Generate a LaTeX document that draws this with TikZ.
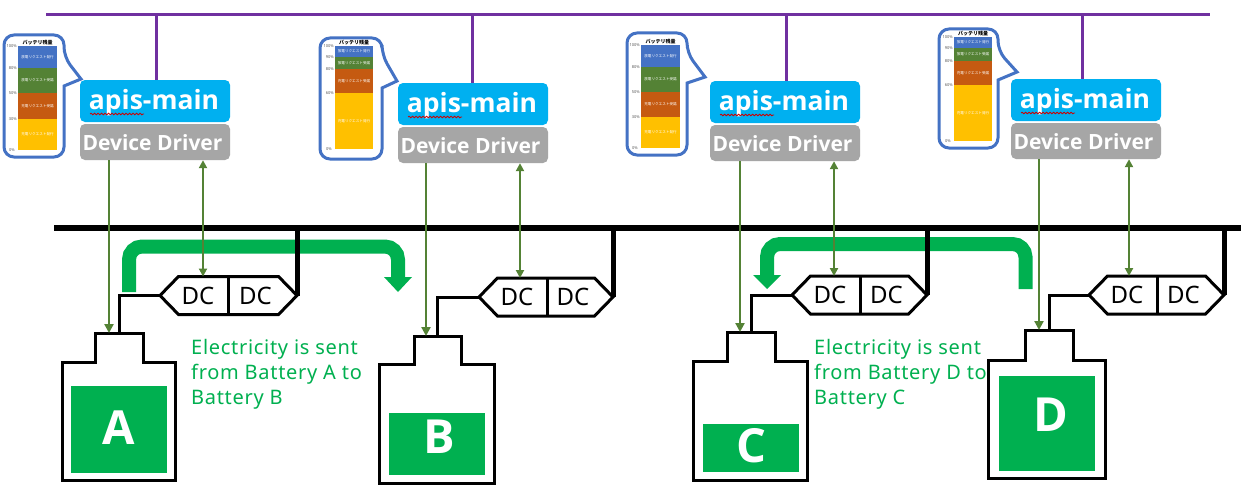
\documentclass[tikz,border=0pt]{standalone}
\usepackage{fontspec}
\setmainfont{Noto Sans}
\newfontfamily\cjkf{Noto Sans CJK JP}
\newfontfamily\heavyf{Open Sans}
\newfontfamily\notef{Noto Sans}[LetterSpace=3.5]
\usetikzlibrary{arrows.meta,decorations.pathmorphing,calc}
\definecolor{purp}{HTML}{7030A0}
\definecolor{sky}{HTML}{00B0F0}
\definecolor{drvgray}{HTML}{A6A6A6}
\definecolor{lnk}{HTML}{548235}
\definecolor{grn}{HTML}{00B050}
\definecolor{bub}{HTML}{4472C4}
\definecolor{orng}{HTML}{C55A11}
\definecolor{yel}{HTML}{FFC000}
\tikzset{
  x=1pt,y=-1pt,
  mainbox/.style={fill=sky,rounded corners=5pt,minimum width=150pt,minimum height=42pt,inner sep=0pt},
  maintxt/.style={inner sep=0pt,text=white,font=\heavyf\fontsize{26.5}{27}\selectfont\bfseries},
  drvbox/.style={fill=drvgray,rounded corners=5pt,minimum width=150pt,minimum height=36pt,inner sep=0pt},
  drvtxt/.style={inner sep=0pt,text=white,font=\heavyf\fontsize{21}{21}\selectfont\bfseries},
  purpline/.style={draw=purp,line width=3pt},
  busline/.style={draw=black,line width=6pt},
  riser/.style={draw=black,line width=5pt},
  wire/.style={draw=black,line width=3pt},
  outline/.style={draw=black,line width=3pt,line join=miter,fill=white},
  link/.style={draw=lnk,line width=2.8pt,-{Triangle[width=9pt,length=9pt]}},
  dlink/.style={draw=lnk,line width=2.4pt,{Triangle[width=8pt,length=8pt]}-{Triangle[width=8pt,length=8pt]}},
  bubble/.style={draw=bub,line width=3pt,fill=white,line join=miter},
  bandtxt/.style={inner sep=0pt,text=white,font=\cjkf\fontsize{3.6}{4}\selectfont},
  pct/.style={inner sep=0pt,anchor=east,text=black!65,font=\fontsize{4}{4}\selectfont},
  ttl/.style={inner sep=0pt,font=\cjkf\fontsize{5}{5}\selectfont\bfseries},
  dctxt/.style={inner sep=0pt,font=\fontsize{24}{24}\selectfont},
  letter/.style={inner sep=0pt,text=white,font=\heavyf\fontsize{47}{47}\selectfont\bfseries},
  note/.style={inner sep=0pt,anchor=north west,align=left,text=grn,font=\notef\fontsize{20}{25}\selectfont},
  wavy/.style={draw=red!80!black,line width=.8pt,decorate,decoration={snake,amplitude=.8pt,segment length=3.5pt}},
  transfer/.style={draw=grn,line width=14pt,rounded corners=13pt},
}
% id, left, top of main
\newcommand{\apisstack}[3]{%
  \node[mainbox] (main#1) at ({#2+75},{#3+21}) {};
  \node[drvbox] (drv#1) at ({#2+75},{#3+62}) {};
  \node[maintxt] (mt#1) at ({#2+74},{#3+23}) {apis-main};
  \node[drvtxt] (dt#1) at ({#2+72.5},{#3+62.5}) {Device Driver};
  \draw[wavy] ({#2+10},{#3+34}) -- ({#2+64},{#3+34});
}
% id, l, r, t, b, tipx, tipy, p1, p2
\newcommand{\bubbleshape}[9]{%
  \draw[bubble,rounded corners=10pt] (#3,#9) -- (#3,#5) -- (#2,#5) -- (#2,#4) -- (#3,#4) -- (#3,#8) [sharp corners] -- (#6,#7) -- cycle;
}
% name, x1, x2, y1, y2, colour, text
\newcommand{\band}[7]{%
  \fill[#6] (#2,#4) rectangle (#3,#5);
  \node[bandtxt] (#1) at ({(#2+#3)/2},{(#4+#5)/2}) {#7};
}
% id, x1, x2, y0..y4
\newcommand{\bands}[8]{%
  \band{#1a}{#2}{#3}{#4}{#5}{bub}{放電リクエスト発行}
  \band{#1b}{#2}{#3}{#5}{#6}{lnk}{放電リクエスト受諾}
  \band{#1c}{#2}{#3}{#6}{#7}{orng}{充電リクエスト受諾}
  \band{#1d}{#2}{#3}{#7}{#8}{yel}{充電リクエスト発行}
  \node[ttl] (#1t) at ({(#2+#3)/2},{#4-3}) {バッテリ残量};
}
% id, x, y0..y4, labels given as second/third/fourth
\newcommand{\pcts}[9]{%
  \node[pct] (#1p0) at (#2-1,#3) {100\%};
  \node[pct] (#1p1) at (#2-1,#4) {#8\%};
  \node[pct] (#1p2) at (#2-1,#5) {#9\%};
  \node[pct] (#1p4) at (#2-3,#7) {0\%};
}
% id, left x, right x, y, divider
\newcommand{\dcpair}[5]{%
  \draw[outline] (#2,#4) -- ({#2+18.5},{#4-19}) -- ({#3-18.5},{#4-19}) -- (#3,#4) -- ({#3-18.5},{#4+19}) -- ({#2+18.5},{#4+19}) -- cycle;
  \draw[wire] (#5,{#4-19}) -- (#5,{#4+19});
  \coordinate (dc#1l) at (#2,#4);
  \coordinate (dc#1r) at (#3,#4);
  \coordinate (dc#1t) at (#5,{#4-19});
  \node[dctxt] (dc#1a) at ({(#2+#5)/2+4},{#4}) {DC};
  \node[dctxt] (dc#1b) at ({(#3+#5)/2-7},{#4}) {DC};
}
% id, neck l, neck r, neck top, shoulder, l, r, bottom
\newcommand{\battshape}[8]{%
  \draw[outline] (#2,#5) -- (#2,#4) -- (#3,#4) -- (#3,#5) -- (#7,#5) -- (#7,#8) -- (#6,#8) -- (#6,#5) -- cycle;
  \coordinate (batt#1) at ({(#2+#3)/2},#4);
}
\begin{document}
\begin{tikzpicture}
\useasboundingbox (0,0) rectangle (1241,487);
\fill[white] (0,0) rectangle (1241,487);

\coordinate (purpL) at (46,14.5);
\coordinate (purpR) at (1210,14.5);
\coordinate (busL) at (54,228);
\coordinate (busR) at (1241,228);

\apisstack{A}{80}{80}
\apisstack{B}{398}{83}
\apisstack{C}{710}{81}
\apisstack{D}{1011}{79}

\draw[purpline] (purpL) -- (purpR);
\draw[purpline] (156,0 |- purpL) -- (156,0 |- mainA.north);
\draw[purpline] (472,0 |- purpL) -- (472,0 |- mainB.north);
\draw[purpline] (786,0 |- purpL) -- (786,0 |- mainC.north);
\draw[purpline] (1082,0 |- purpL) -- (1082,0 |- mainD.north);

\bubbleshape{A}{4}{64}{35}{157}{81}{79}{57}{86}
\bands{gA}{18}{57}{46}{68}{93}{119}{150}
\pcts{gA}{18}{46}{68}{93}{119}{150}{80}{50}
\node[pct] (gAp3) at (17,119) {30\%};

\bubbleshape{B}{320}{382}{38}{159}{397}{81}{55}{88}
\bands{gB}{335}{373}{46}{57}{69}{93}{149}
\pcts{gB}{335}{46}{57}{69}{93}{149}{90}{80}
\node[pct] (gBp3) at (334,93) {60\%};

\bubbleshape{C}{627}{687}{33}{155}{705}{77}{53}{83}
\bands{gC}{641}{680}{45}{67}{92}{117}{148}
\pcts{gC}{641}{45}{67}{92}{117}{148}{80}{50}
\node[pct] (gCp3) at (640,117) {30\%};

\bubbleshape{D}{939}{998}{29}{148}{1017}{72}{51}{80}
\bands{gD}{954}{992}{37}{48}{61}{85}{141}
\pcts{gD}{954}{37}{48}{61}{85}{141}{90}{80}
\node[pct] (gDp3) at (953,85) {60\%};

% big green transfer arrows
\draw[transfer] (129,292) -- (129,246.5) -- (398,246.5) -- (398,278);
\fill[grn] (384,277) -- (412,277) -- (398,292) -- cycle;
\draw[transfer] (1025.5,289) -- (1025.5,244) -- (767,244) -- (767,276);
\fill[grn] (753,275) -- (781,275) -- (767,289) -- cycle;

\draw[busline] (busL) -- (busR);

\dcpair{A}{160}{297}{295.5}{228}
\dcpair{B}{479}{613}{297}{547}
\dcpair{C}{792}{927}{295}{860}
\dcpair{D}{1089}{1224}{295}{1157}

\foreach \n in {A,B,C,D}{
  \draw[riser] (dc\n r) -- (dc\n r |- busL);
}

\battshape{A}{95}{143}{333}{362}{62}{175}{480}
\battshape{B}{414}{461}{336}{364}{379}{494}{483}
\battshape{C}{727}{775}{332}{361}{693}{807}{480}
\battshape{D}{1025}{1073}{330}{360}{988}{1105}{478}

\fill[grn] (71,386) rectangle (167,473);
\node[letter] (letA) at (119,428) {A};
\fill[grn] (389,413) rectangle (485,475);
\node[letter] (letB) at (439,437) {B};
\fill[grn] (703,424) rectangle (799,472);
\node[letter] (letC) at (751,446) {C};
\fill[grn] (999,376) rectangle (1095,471);
\node[letter] (letD) at (1051,415) {D};

\foreach \n in {A,B,C,D}{
  \draw[wire] (dc\n l) -| (batt\n);
}

\draw[link] (109,0 |- drvA.south) -- (109,0 |- battA);
\draw[dlink] (203,0 |- drvA.south) -- (dcAt -| 203,0);
\draw[link] (426,0 |- drvB.south) -- (426,0 |- battB);
\draw[dlink] (520,0 |- drvB.south) -- (dcBt -| 520,0);
\draw[link] (740,0 |- drvC.south) -- (740,0 |- battC);
\draw[dlink] (834,0 |- drvC.south) -- (dcCt -| 834,0);
\draw[link] (1039,0 |- drvD.south) -- (1039,0 |- battD);
\draw[dlink] (1129,0 |- drvD.south) -- (dcDt -| 1129,0);

\node[note] (noteA) at (191,339) {Electricity is sent\\from Battery A to\\Battery B};
\node[note] (noteC) at (814,339) {Electricity is sent\\from Battery D to\\Battery C};
\end{tikzpicture}
\end{document}
